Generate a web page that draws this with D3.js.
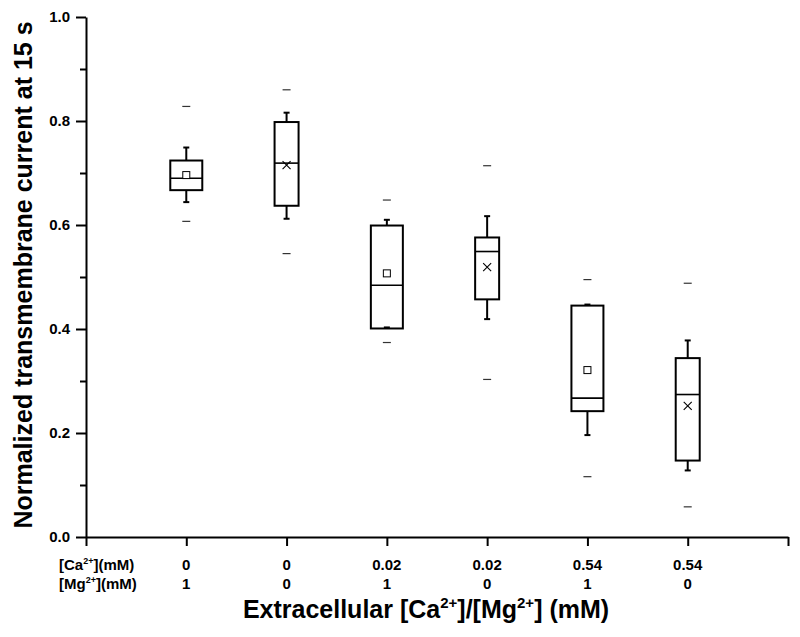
<!DOCTYPE html>
<html><head><meta charset="utf-8">
<script src="https://cdnjs.cloudflare.com/ajax/libs/d3/7.8.5/d3.min.js"></script>
<style>body{margin:0;background:#fff;} text{font-family:"Liberation Sans",Arial,sans-serif;font-weight:bold;}</style>
</head><body><svg id="c" width="800" height="637"></svg>
<script>
const caLabels = ["0","0","0.02","0.02","0.54","0.54"];
const mgLabels = ["1","0","1","0","1","0"];
const meanMarker = ["square","x","square","x","square","x"];
const boxWidthGroup = ["wide","narrow","wide","narrow","wide","narrow"];
const minVals   = [0.607,0.545,0.374,0.303,0.116,0.058];
const whiskLow  = [0.644,0.612,0.403,0.419,0.196,0.128];
const q1Vals    = [0.667,0.637,0.401,0.457,0.242,0.147];
const medVals   = [0.690,0.719,0.484,0.549,0.267,0.274];
const q3Vals    = [0.724,0.798,0.599,0.576,0.445,0.344];
const whiskHigh = [0.749,0.816,0.610,0.617,0.447,0.378];
const maxVals   = [0.828,0.860,0.648,0.714,0.495,0.488];
const meanVals  = [0.696,0.715,0.507,0.519,0.321,0.252];
const yTicks = [0,0.2,0.4,0.6,0.8,1.0];
const yMinorTicks = [0.1,0.3,0.5,0.7,0.9];

const svg = d3.select("#c");
const x = d3.scaleLinear().domain([0,7]).range([86,788]);
const y = d3.scaleLinear().domain([0,1]).range([537,17]);

// axes
const ya = svg.append("g").attr("transform","translate(86,0)")
  .call(d3.axisLeft(y).tickValues(yTicks).tickFormat(d3.format(".1f")).tickSize(10).tickSizeOuter(0));
svg.append("g").attr("transform","translate(86,0)")
  .call(d3.axisLeft(y).tickValues(yMinorTicks).tickFormat("").tickSize(6).tickSizeOuter(0))
  .select(".domain").remove();
const xa = svg.append("g").attr("transform","translate(0,537)")
  .call(d3.axisBottom(x).tickValues([0,1,2,3,4,5,6,7]).tickFormat("").tickSize(9).tickSizeOuter(0));
svg.selectAll(".domain").attr("stroke","#000").attr("stroke-width",2);
svg.selectAll(".tick line").attr("stroke","#000").attr("stroke-width",2);
ya.selectAll(".tick text").attr("font-size",15).attr("fill","#000").attr("x",-16).attr("font-weight","bold")
  .style("font-family","'Liberation Sans',Arial,sans-serif");

// category labels
const cats = d3.range(6);
svg.append("g").selectAll("text.ca").data(cats).join("text")
  .attr("x",i=>x(i+1)).attr("y",570).attr("text-anchor","middle").attr("font-size",15).text(i=>caLabels[i]);
svg.append("g").selectAll("text.mg").data(cats).join("text")
  .attr("x",i=>x(i+1)).attr("y",589).attr("text-anchor","middle").attr("font-size",15).text(i=>mgLabels[i]);
const rl1 = svg.append("text").attr("x",59).attr("y",570).attr("font-size",15);
rl1.append("tspan").text("[Ca");
rl1.append("tspan").attr("font-size",9).attr("dy",-6).text("2+");
rl1.append("tspan").attr("dy",6).text("](mM)");
const rl2 = svg.append("text").attr("x",59).attr("y",589).attr("font-size",15);
rl2.append("tspan").text("[Mg");
rl2.append("tspan").attr("font-size",9).attr("dy",-6).text("2+");
rl2.append("tspan").attr("dy",6).text("](mM)");

// x title
const xt = svg.append("text").attr("x",426).attr("y",618).attr("text-anchor","middle").attr("font-size",25);
xt.append("tspan").text("Extracellular [Ca");
xt.append("tspan").attr("font-size",15).attr("dy",-10).text("2+");
xt.append("tspan").attr("dy",10).text("]/[Mg");
xt.append("tspan").attr("font-size",15).attr("dy",-10).text("2+");
xt.append("tspan").attr("dy",10).text("] (mM)");

// y title
svg.append("text").attr("transform","translate(32,275) rotate(-90)").attr("text-anchor","middle")
  .attr("font-size",25).text("Normalized transmembrane current at 15 s");

// boxes
const g = svg.append("g");
cats.forEach(i=>{
  const cx = x(i+1);
  const w = boxWidthGroup[i]==="wide" ? 32 : 24;
  g.append("line").attr("x1",cx).attr("x2",cx).attr("y1",y(q3Vals[i])).attr("y2",y(whiskHigh[i])).attr("stroke","#000").attr("stroke-width",2);
  g.append("line").attr("x1",cx).attr("x2",cx).attr("y1",y(q1Vals[i])).attr("y2",y(whiskLow[i])).attr("stroke","#000").attr("stroke-width",2);
  [whiskHigh[i],whiskLow[i]].forEach(v=>{
    g.append("line").attr("x1",cx-3).attr("x2",cx+3).attr("y1",y(v)).attr("y2",y(v)).attr("stroke","#000").attr("stroke-width",2);
  });
  g.append("rect").attr("x",cx-w/2).attr("y",y(q3Vals[i])).attr("width",w).attr("height",y(q1Vals[i])-y(q3Vals[i]))
    .attr("fill","none").attr("stroke","#000").attr("stroke-width",2);
  g.append("line").attr("x1",cx-w/2).attr("x2",cx+w/2).attr("y1",y(medVals[i])).attr("y2",y(medVals[i])).attr("stroke","#000").attr("stroke-width",1.6);
  [maxVals[i],minVals[i]].forEach(v=>{
    g.append("line").attr("x1",cx-4).attr("x2",cx+4).attr("y1",y(v)).attr("y2",y(v)).attr("stroke","#333").attr("stroke-width",1.2);
  });
  const my = y(meanVals[i]);
  if(meanMarker[i]==="square"){
    g.append("rect").attr("x",cx-3.5).attr("y",my-3.5).attr("width",7).attr("height",7).attr("fill","#fff").attr("stroke","#000").attr("stroke-width",1);
  } else {
    g.append("path").attr("d",`M${cx-4},${my-4}L${cx+4},${my+4}M${cx-4},${my+4}L${cx+4},${my-4}`).attr("stroke","#000").attr("stroke-width",1.1);
  }
});
</script></body></html>
